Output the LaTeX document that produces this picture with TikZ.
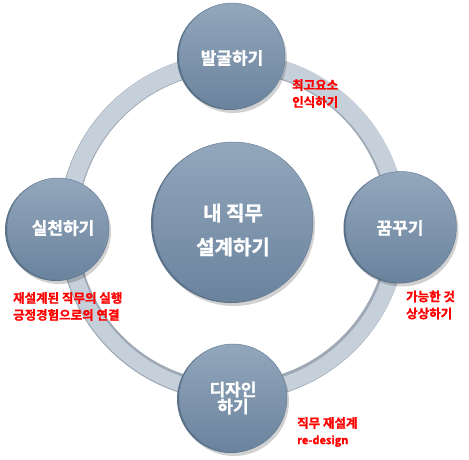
\documentclass[tikz,border=0pt]{standalone}
\usepackage{fontspec}
\setmainfont{Noto Sans CJK KR}
\newfontfamily\krbold{Noto Sans CJK KR Bold}[FakeBold=1.3]
\begin{document}
\begin{tikzpicture}[x=1pt,y=-1pt,
  bubble/.style={circle, inner sep=0pt, top color=bubtop, bottom color=bubbot, draw=bubedge, line width=0.5pt},
  bubshadow/.style={circle, inner sep=0pt, fill=black, opacity=0.18, draw=none},
  bubdark/.style={circle, inner sep=0pt, fill=bubdarkc, draw=none},
  btext/.style={text=white, align=center, font=\krbold\fontsize{17}{17}\selectfont},
  note/.style={anchor=west, align=left, text=red, font=\krbold\fontsize{12.5}{17}\selectfont, inner sep=0pt}
]
\definecolor{ringc}{HTML}{C6D0DB}
\definecolor{ringedge}{HTML}{9EA9B5}
\definecolor{bubtop}{HTML}{93A7BC}
\definecolor{bubbot}{HTML}{6A839D}
\definecolor{bubedge}{HTML}{6A8099}
\definecolor{bubdarkc}{HTML}{5A718A}
\useasboundingbox (0,0) rectangle (469,459);
\fill[white] (0,0) rectangle (469,459);
% ring
\coordinate (rc) at (232.5,227);
\fill[ringedge, even odd rule] (rc) circle[radius=174] (rc) circle[radius=155];
\fill[ringc, even odd rule] ([xshift=0.5pt,yshift=0.5pt]rc) circle[radius=173.5] ([xshift=0.5pt,yshift=-1pt]rc) circle[radius=157];
% shadows
\foreach \x/\y/\r in {232/56/53, 58/229/51, 401/227/55.5, 233/398/54, 233/222/80}{
  \node[bubshadow, minimum size=2*\r pt+2pt] at (\x+1,\y+3) {};
  \node[bubdark, minimum size=2*\r pt] at (\x-2,\y+1) {};
}
% bubbles
\node[bubble, minimum size=106pt] (top) at (232,56) {};
\node[bubble, minimum size=102pt] (left) at (58,229) {};
\node[bubble, minimum size=111pt] (right) at (401,227) {};
\node[bubble, minimum size=108pt] (bottom) at (233,398) {};
\node[bubble, minimum size=160pt] (center) at (233,222) {};
% texts
\node[btext] (ttop) at (232,58) {발굴하기};
\node[btext] (tleft) at (63,228) {실천하기};
\node[btext] (tright) at (400,228) {꿈꾸기};
\node[btext] (tbottom) at (233,398) {디자인\\하기};
\node[btext, font=\krbold\fontsize{20}{34}\selectfont] (tcenter) at (233,230) {내 직무\\설계하기};
% notes
\node[note] (n1) at (292,93.5) {최고요소\\인식하기};
\node[note] (n2) at (13,306.5) {재설계된 직무의 실행\\긍정경험으로의 연결};
\node[note] (n3) at (406,305) {가능한 것\\상상하기};
\node[note] (n4) at (297,423) {직무 재설계};
\node[note, font=\krbold\fontsize{11}{13}\selectfont] (n5) at (297,441) {re-design};
\end{tikzpicture}
\end{document}
